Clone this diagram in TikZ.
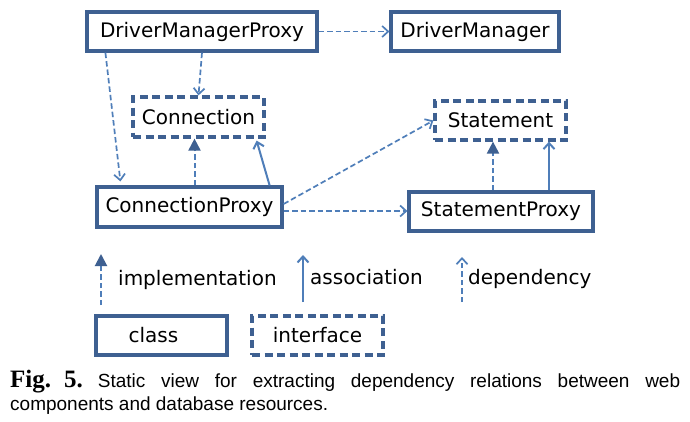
\documentclass[tikz,border=0pt]{standalone}
\usepackage{fontspec}
\setmainfont{DejaVu Sans}
\newfontfamily\capsans{Liberation Sans}
\newfontfamily\capserif{Liberation Serif}
\usetikzlibrary{arrows.meta}
\definecolor{boxc}{RGB}{62,96,145}
\definecolor{arrc}{RGB}{79,126,185}
\tikzset{
  cls/.style={draw=boxc, line width=3.2pt, fill=white, inner sep=0pt,
    font=\fontsize{20}{24}\selectfont},
  ifc/.style={cls, dash pattern=on 8pt off 4.5pt},
  dep/.style={draw=arrc, line width=1.7pt, dash pattern=on 5.5pt off 3pt,
    -{Straight Barb[length=6pt,width=11pt,line width=1.7pt]}},
  asc/.style={draw=arrc, line width=2pt,
    -{Straight Barb[length=6pt,width=11pt,line width=2pt]}},
  impl/.style={draw=arrc, line width=2pt, dash pattern=on 5.5pt off 3pt,
    -{Triangle[length=12pt,width=12pt,fill=boxc,color=boxc]}},
  lbl/.style={font=\fontsize{20}{24}\selectfont, inner sep=0pt, anchor=base west}
}
\begin{document}
\begin{tikzpicture}[x=1pt,y=-1pt]
\useasboundingbox[fill=white] (0,0) rectangle (690,421);
% nodes
\node[cls, minimum width=230pt, minimum height=39pt] (dmp) at (202,31.5) {DriverManagerProxy};
\node[cls, minimum width=168pt, minimum height=39pt] (dm) at (475,31.5) {DriverManager};
\node[ifc, minimum width=131pt, minimum height=40pt] (conn) at (198.5,117) {Connection};
\node[cls, minimum width=185pt, minimum height=40pt] (cp) at (189.5,207) {ConnectionProxy};
\node[ifc, minimum width=131pt, minimum height=39pt] (stmt) at (500.5,120.5) {Statement};
\node[cls, minimum width=184pt, minimum height=39pt] (sp) at (501,211.5) {StatementProxy};
% connectors
\draw[dep] (dmp.east) -- (dm.west);
\draw[dep] (dmp.south) -- (conn.north);
\draw[dep] ([xshift=20pt]dmp.south west) -- ([xshift=25pt,yshift=4pt]cp.north west);
\draw[impl] ([xshift=5pt]cp.north) -- ([xshift=5pt]cp.north |- conn.south);
\draw[asc] ([xshift=-14pt]cp.north east) -- ([xshift=-9pt,yshift=-2pt]conn.south east);
\draw[dep] ([yshift=3pt]cp.east) -- (stmt.west);
\draw[dep] ([yshift=-4pt]cp.east) -- ([yshift=-4pt]cp.east -| sp.west);
\draw[impl] ([xshift=-8pt]sp.north) -- ([xshift=-8pt]sp.north |- stmt.south);
\draw[asc] ([xshift=48pt]sp.north) -- ([xshift=48pt]sp.north |- stmt.south);
% legend
\coordinate (i0) at (101,305); \coordinate (i1) at (101,254);
\coordinate (a0) at (303,302); \coordinate (a1) at (303,255);
\coordinate (d0) at (462,302); \coordinate (d1) at (462,257);
\draw[impl] (i0) -- (i1);
\draw[asc] (a0) -- (a1);
\draw[dep] (d0) -- (d1);
\node[lbl] (limpl) at (118,285) {implementation};
\node[lbl] (lasc) at (310,284) {association};
\node[lbl] (ldep) at (468,284) {dependency};
\node[cls, minimum width=131pt, minimum height=39pt] (lcls) at (161.5,335.5) {\hspace{-16pt}class};
\node[ifc, minimum width=131pt, minimum height=39pt] (lifc) at (317.5,335.5) {interface};
% caption
\node[inner sep=0pt, anchor=base west] (cap1) at (10,387)
  {\makebox[670pt][s]{{\capserif\bfseries\fontsize{25}{28}\selectfont Fig.\hspace*{13pt}5.}\hspace*{15pt}{\capsans\fontsize{19}{22}\selectfont Static view for extracting dependency relations between web}}};
\node[inner sep=0pt, anchor=base west, font=\capsans\fontsize{19}{22}\selectfont] (cap2) at (10,410)
  {components and database resources.};
\end{tikzpicture}
\end{document}
